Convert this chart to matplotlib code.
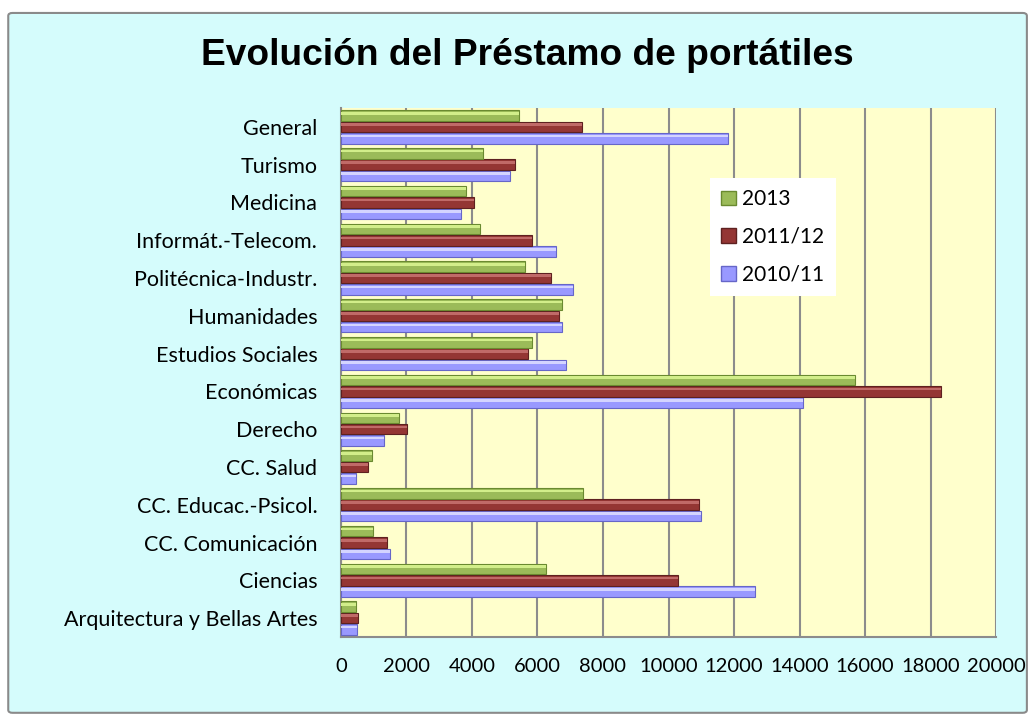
import matplotlib
matplotlib.use("Agg")
import matplotlib.pyplot as plt
import numpy as np
from matplotlib.patches import FancyBboxPatch, Patch

# datos
categorias = ["Arquitectura y Bellas Artes", "Ciencias", "CC. Comunicación",
              "CC. Educac.-Psicol.", "CC. Salud", "Derecho", "Económicas",
              "Estudios Sociales", "Humanidades", "Politécnica-Industr.",
              "Informát.-Telecom.", "Medicina", "Turismo", "General"]
v2010 = [480, 12640, 1490, 11000, 460, 1310, 14100, 6870, 6740, 7080, 6580, 3660, 5150, 11830]
v2011 = [520, 10290, 1400, 10920, 820, 2030, 18310, 5710, 6670, 6400, 5840, 4060, 5310, 7350]
v2013 = [460, 6260, 970, 7400, 940, 1770, 15700, 5830, 6750, 5630, 4240, 3830, 4330, 5450]

series = [("2010/11", v2010, "#9999FF", "#D4D4FF", "#6666C8"),
          ("2011/12", v2011, "#943634", "#C06A68", "#5E2120"),
          ("2013", v2013, "#9BBB59", "#D2EE8A", "#6A8A30")]

fig = plt.figure(figsize=(10.31, 7.20), dpi=100)

# marco exterior celeste
marco = FancyBboxPatch((0.008, 0.01), 0.988, 0.972, boxstyle="round,pad=0,rounding_size=0.004",
                       transform=fig.transFigure, facecolor="#D5FCFC", edgecolor="#8A8A8A",
                       linewidth=1.5, zorder=-10)
fig.patches.append(marco)

ax = fig.add_axes([0.3307, 0.1153, 0.6354, 0.7347])
ax.set_facecolor("#FFFFCC")

y = np.arange(len(categorias))
alto = 0.28
paso = 0.3
for i, (nombre, vals, c, claro, oscuro) in enumerate(series):
    yy = y + (i - 1) * paso
    ax.barh(yy, vals, height=alto, color=c, edgecolor=oscuro, linewidth=0.8, zorder=3)
    # brillo superior para imitar el relieve
    ax.barh(yy + alto * 0.22, vals, height=alto * 0.25, color=claro, linewidth=0, zorder=4)

ax.set_xlim(0, 20000)
ax.set_ylim(-0.5, 13.5)
ax.set_xticks(np.arange(0, 20001, 2000))
ax.set_yticks(y)
ax.set_yticklabels(categorias)
ax.grid(axis="x", color="#8C8C8C", linewidth=1.5, zorder=1)
ax.tick_params(length=0)
ax.tick_params(axis="y", pad=17, labelsize=15.5)
ax.tick_params(axis="x", pad=15, labelsize=14.5)
for lab in ax.get_xticklabels() + ax.get_yticklabels():
    lab.set_family(["Lato", "DejaVu Sans"])

for s in ["top", "right"]:
    ax.spines[s].set_visible(False)
ax.spines["left"].set_color("#8C8C8C")
ax.spines["bottom"].set_color("#8C8C8C")
ax.spines["left"].set_linewidth(1.5)
ax.spines["bottom"].set_linewidth(1.5)

handles = [Patch(facecolor=c, edgecolor=o, label=n) for n, v, c, cl, o in series[::-1]]
leg = ax.legend(handles=handles, loc="upper left", bbox_to_anchor=(0.547, 0.888),
                frameon=True, fancybox=False, edgecolor="none", facecolor="white",
                framealpha=1, fontsize=15, labelspacing=0.85, handlelength=0.7,
                handleheight=0.7, handletextpad=0.3, borderpad=0.55)
for t in leg.get_texts():
    t.set_family(["Lato", "DejaVu Sans"])

fig.text(0.511, 0.923, "Evolución del Préstamo de portátiles", ha="center", va="center",
         fontsize=26.7, fontweight="bold", family=["Liberation Sans", "DejaVu Sans"])

fig.savefig("out.png", dpi=100)
